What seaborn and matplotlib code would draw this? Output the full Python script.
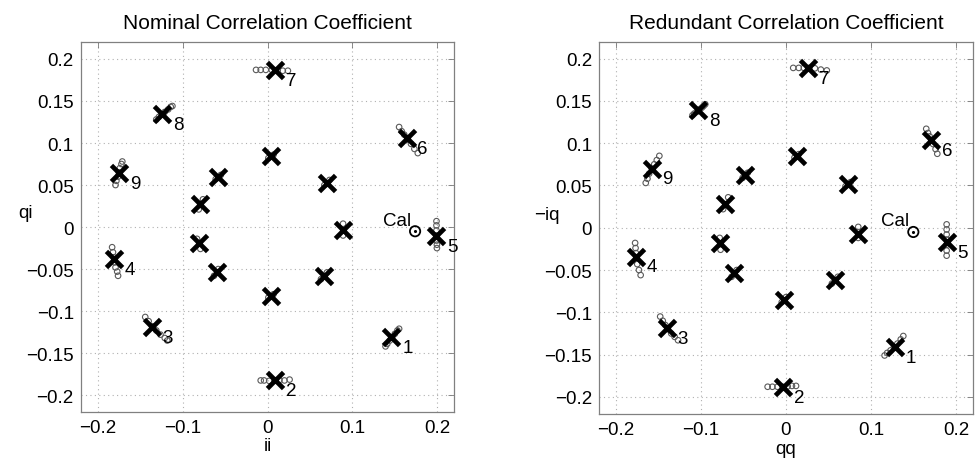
import numpy as np
import pandas as pd
import matplotlib
matplotlib.use("Agg")
import matplotlib.pyplot as plt
import seaborn as sns

# ---------------- data ----------------
titles = ["Nominal Correlation Coefficient", "Redundant Correlation Coefficient"]
xlabels = ["ii", "qq"]
ylabels = ["qi", "\u2212iq"]
tick_x = [-0.2, -0.1, 0, 0.1, 0.2]
tick_y = [-0.2, -0.15, -0.1, -0.05, 0, 0.05, 0.1, 0.15, 0.2]
point_labels = ["1", "2", "3", "4", "5", "6", "7", "8", "9"]

# Nominal: numbered (outer) cluster centres
nom_num_x = [0.146, 0.009, -0.136, -0.181, 0.199, 0.164, 0.009, -0.124, -0.175]
nom_num_y = [-0.131, -0.1825, -0.119, -0.038, -0.011, 0.106, 0.187, 0.135, 0.064]
# Nominal: inner cluster centres
nom_in_x = [0.004, -0.058, -0.079, 0.070, 0.089, -0.081, -0.060, 0.004, 0.066]
nom_in_y = [0.084, 0.059, 0.027, 0.0525, -0.004, -0.019, -0.054, -0.082, -0.058]
# Nominal: calibration point
nom_cal_x = [0.1738]
nom_cal_y = [-0.005]
# Nominal: individual samples (open circles)
nom_circ_x = [
    0.139, 0.141, 0.144, 0.147, 0.150, 0.153, 0.155,
    -0.008, -0.004, 0.002, 0.008, 0.014, 0.020, 0.026,
    -0.144, -0.140, -0.136, -0.131, -0.126, -0.121, -0.118,
    -0.183, -0.182, -0.181, -0.180, -0.179, -0.177, -0.176,
    0.199, 0.199, 0.199, 0.199, 0.199, 0.1995, 0.1995,
    0.155, 0.158, 0.161, 0.165, 0.169, 0.173, 0.177,
    -0.0135, -0.008, -0.002, 0.005, 0.012, 0.018, 0.024,
    -0.131, -0.128, -0.125, -0.121, -0.117, -0.114, -0.112,
    -0.179, -0.178, -0.176, -0.175, -0.174, -0.172, -0.171,
    0.001, 0.007, -0.061, -0.055, -0.081, -0.076, 0.067, 0.073,
    0.089, 0.089, -0.083, -0.079, -0.063, -0.058, 0.001, 0.007, 0.063, 0.070,
]
nom_circ_y = [
    -0.142, -0.139, -0.135, -0.131, -0.127, -0.123, -0.121,
    -0.1825, -0.1825, -0.183, -0.1825, -0.182, -0.1825, -0.1815,
    -0.107, -0.112, -0.118, -0.123, -0.128, -0.132, -0.135,
    -0.024, -0.030, -0.036, -0.042, -0.048, -0.053, -0.058,
    0.007, 0.002, -0.004, -0.010, -0.016, -0.021, -0.025,
    0.119, 0.114, 0.110, 0.104, 0.099, 0.093, 0.088,
    0.187, 0.187, 0.187, 0.187, 0.1865, 0.186, 0.186,
    0.128, 0.131, 0.134, 0.137, 0.140, 0.143, 0.144,
    0.050, 0.055, 0.060, 0.065, 0.070, 0.075, 0.078,
    0.082, 0.086, 0.057, 0.062, 0.021, 0.033, 0.050, 0.056,
    0.004, -0.010, -0.014, -0.026, -0.058, -0.050, -0.084, -0.080, -0.062, -0.054,
]

# Redundant: numbered (outer) cluster centres
red_num_x = [0.128, -0.003, -0.140, -0.1765, 0.189, 0.171, 0.026, -0.103, -0.158]
red_num_y = [-0.141, -0.188, -0.119, -0.034, -0.0166, 0.104, 0.189, 0.139, 0.070]
# Redundant: inner cluster centres
red_in_x = [0.0126, -0.048, -0.072, 0.073, 0.085, -0.0776, -0.061, -0.0024, 0.0576]
red_in_y = [0.085, 0.062, 0.028, 0.0515, -0.007, -0.0186, -0.054, -0.085, -0.062]
# Redundant: calibration point
red_cal_x = [0.1498]
red_cal_y = [-0.005]
# Redundant: individual samples (open circles)
red_circ_x = [
    0.116, 0.119, 0.123, 0.127, 0.131, 0.135, 0.138,
    -0.0216, -0.016, -0.010, -0.004, 0.002, 0.007, 0.0118,
    -0.148, -0.145, -0.142, -0.139, -0.135, -0.131, -0.127,
    -0.1775, -0.177, -0.1765, -0.176, -0.175, -0.173, -0.171,
    0.189, 0.189, 0.189, 0.189, 0.189, 0.189, 0.189,
    0.165, 0.167, 0.169, 0.171, 0.173, 0.176, 0.178,
    0.0085, 0.015, 0.021, 0.027, 0.034, 0.041, 0.048,
    -0.110, -0.108, -0.105, -0.102, -0.099, -0.097, -0.095,
    -0.165, -0.163, -0.161, -0.158, -0.155, -0.152, -0.149,
    0.010, 0.015, -0.051, -0.045, -0.074, -0.068, 0.070, 0.076,
    0.085, 0.085, -0.078, -0.077, -0.064, -0.058, -0.005, 0.000, 0.054, 0.061,
]
red_circ_y = [
    -0.151, -0.148, -0.145, -0.141, -0.137, -0.132, -0.128,
    -0.188, -0.188, -0.188, -0.188, -0.1875, -0.187, -0.187,
    -0.105, -0.110, -0.115, -0.120, -0.125, -0.129, -0.133,
    -0.018, -0.024, -0.030, -0.036, -0.043, -0.050, -0.056,
    0.004, -0.002, -0.008, -0.014, -0.020, -0.027, -0.033,
    0.117, 0.112, 0.108, 0.104, 0.099, 0.093, 0.0875,
    0.189, 0.189, 0.189, 0.189, 0.1885, 0.187, 0.186,
    0.133, 0.135, 0.137, 0.140, 0.142, 0.144, 0.146,
    0.053, 0.058, 0.064, 0.070, 0.075, 0.080, 0.085,
    0.083, 0.087, 0.059, 0.065, 0.022, 0.036, 0.049, 0.054,
    0.001, -0.012, -0.012, -0.026, -0.058, -0.050, -0.088, -0.082, -0.066, -0.058,
]

panels = [
    dict(num_x=nom_num_x, num_y=nom_num_y, in_x=nom_in_x, in_y=nom_in_y,
         cal_x=nom_cal_x, cal_y=nom_cal_y, circ_x=nom_circ_x, circ_y=nom_circ_y),
    dict(num_x=red_num_x, num_y=red_num_y, in_x=red_in_x, in_y=red_in_y,
         cal_x=red_cal_x, cal_y=red_cal_y, circ_x=red_circ_x, circ_y=red_circ_y),
]

# ---------------- style ----------------
sns.set_style("white")
plt.rcParams["font.family"] = ["Liberation Sans", "DejaVu Sans"]
plt.rcParams["axes.unicode_minus"] = True
plt.rcParams["text.color"] = "black"
plt.rcParams["axes.labelcolor"] = "black"
plt.rcParams["xtick.color"] = "black"
plt.rcParams["ytick.color"] = "black"

fig = plt.figure(figsize=(9.77, 4.64), dpi=100)
axes_rects = [[0.0826, 0.110, 0.3824, 0.797], [0.6131, 0.106, 0.3828, 0.802]]
ylab_pos = [(-0.149, 0.54), (-0.139, 0.535)]

for i, p in enumerate(panels):
    ax = fig.add_axes(axes_rects[i])
    circ = pd.DataFrame({"x": p["circ_x"], "y": p["circ_y"]})
    sns.scatterplot(data=circ, x="x", y="y", ax=ax, marker="o", s=16,
                    linewidth=0.8, legend=False, zorder=2)
    coll = ax.collections[-1]
    coll.set_facecolor("none")
    coll.set_edgecolor("#5a5a5a")

    cross = pd.DataFrame({"x": list(p["num_x"]) + list(p["in_x"]),
                          "y": list(p["num_y"]) + list(p["in_y"])})
    sns.scatterplot(data=cross, x="x", y="y", ax=ax, marker="x", s=135,
                    color="black", linewidth=3.4, legend=False, zorder=3)

    cal = pd.DataFrame({"x": p["cal_x"], "y": p["cal_y"]})
    sns.scatterplot(data=cal, x="x", y="y", ax=ax, marker="o", s=55,
                    linewidth=1.3, legend=False, zorder=3)
    c2 = ax.collections[-1]
    c2.set_facecolor("none")
    c2.set_edgecolor("black")
    sns.scatterplot(data=cal, x="x", y="y", ax=ax, marker="o", s=5,
                    color="black", linewidth=0, legend=False, zorder=4)

    for lab, xx, yy in zip(point_labels, p["num_x"], p["num_y"]):
        ax.annotate(lab, (xx, yy), xytext=(11.5, -7.5), textcoords="offset points",
                    ha="center", va="center", fontsize=13.5, color="black")
    ax.annotate("Cal", (p["cal_x"][0], p["cal_y"][0]), xytext=(-3, 8),
                textcoords="offset points", ha="right", va="center",
                fontsize=13.5, color="black")

    ax.set_xlim(-0.22, 0.22)
    ax.set_ylim(-0.22, 0.22)
    ax.set_xticks(tick_x)
    ax.set_yticks(tick_y)
    ax.set_xticklabels([f"{v:g}".replace("-", "\u2212") for v in tick_x])
    ax.set_yticklabels([f"{v:g}".replace("-", "\u2212") for v in tick_y])
    ax.tick_params(direction="in", length=4, width=0.6, color="#777777",
                   labelcolor="black", labelsize=13.5, top=True, right=True, pad=5)
    ax.grid(True, linestyle=(0, (1, 3)), color="#b0b0b0", linewidth=0.8)
    for s in ax.spines.values():
        s.set_color("#808080")
        s.set_linewidth(0.9)
    ax.set_title(titles[i], fontsize=15, pad=10, color="black")
    ax.set_xlabel(xlabels[i], fontsize=13.5, color="black", va="center")
    ax.xaxis.set_label_coords(0.5, -0.092)
    ax.set_ylabel(ylabels[i], fontsize=13.5, rotation=0, ha="center", va="center",
                  color="black")
    ax.yaxis.set_label_coords(*ylab_pos[i])

fig.savefig("out.png", dpi=100)
